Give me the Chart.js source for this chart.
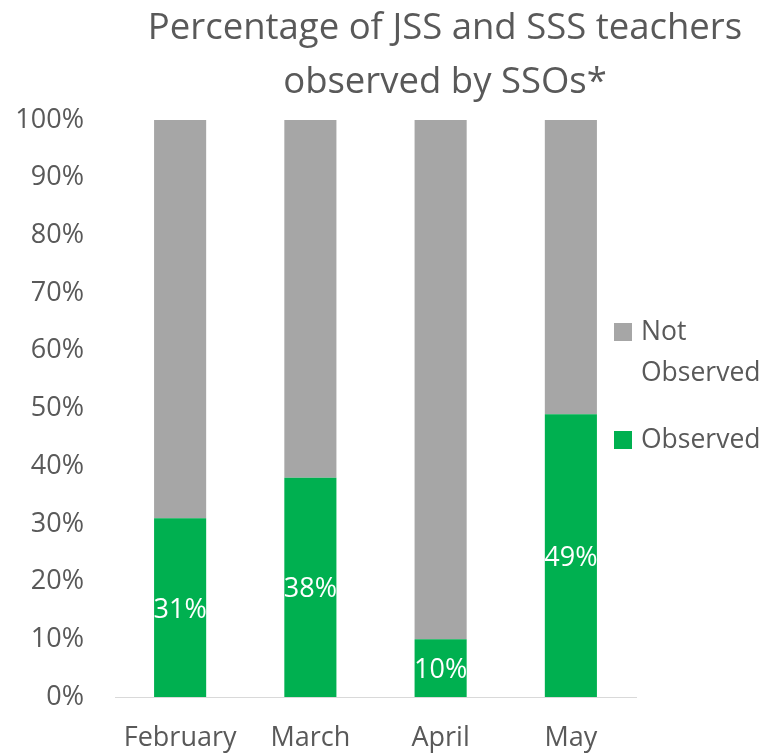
<!DOCTYPE html>
<html>
<head>
<meta charset="utf-8">
<script src="https://cdn.jsdelivr.net/npm/chart.js@4"></script>
<style>
  html, body { margin: 0; padding: 0; background: #fff; }
  #wrap { width: 767px; height: 755px; }
</style>
</head>
<body>
<div id="wrap"><canvas id="teacher-chart"></canvas></div>
<script>
const months = ["February", "March", "April", "May"];
const observed = [31, 38, 10, 49];
const notObserved = [69, 62, 90, 51];
const yTicks = [0, 10, 20, 30, 40, 50, 60, 70, 80, 90, 100];
const titleLines = ["Percentage of JSS and SSS teachers", "observed by SSOs*"];

const textColor = "#595959";
const fontName = "'Open Sans', sans-serif";

// white % labels in the middle of the green bars
const barLabels = {
    id: "barLabels",
    afterDatasetsDraw(chart) {
        const ctx = chart.ctx;
        const meta = chart.getDatasetMeta(0);
        ctx.save();
        ctx.fillStyle = "#ffffff";
        ctx.font = "27px " + fontName;
        ctx.textAlign = "center";
        ctx.textBaseline = "alphabetic";
        meta.data.forEach((bar, i) => {
            const mid = (bar.y + bar.base) / 2;
            ctx.fillText(observed[i] + "%", bar.x, mid + 10);
        });
        ctx.restore();
    }
};

// title + legend drawn by hand so they can sit where Excel put them
const extras = {
    id: "extras",
    afterDraw(chart) {
        const ctx = chart.ctx;
        ctx.save();
        ctx.fillStyle = textColor;
        ctx.font = "36.5px " + fontName;
        ctx.textAlign = "center";
        ctx.textBaseline = "alphabetic";
        titleLines.forEach((line, i) => ctx.fillText(line, 445, 39 + i * 54));

        const x = chart.chartArea.right - 22;
        const items = [
            { text: ["Not", "Observed"], color: chart.data.datasets[1].backgroundColor, top: 323 },
            { text: ["Observed"], color: chart.data.datasets[0].backgroundColor, top: 431 }
        ];
        ctx.font = "26.5px " + fontName;
        ctx.textAlign = "left";
        items.forEach(item => {
            ctx.fillStyle = item.color;
            ctx.fillRect(x, item.top, 18, 18);
            ctx.fillStyle = textColor;
            item.text.forEach((line, j) => {
                ctx.fillText(line, x + 27, item.top + 17 + j * 41);
            });
        });
        ctx.restore();
    }
};

const config = {
    type: "bar",
    data: {
        labels: months,
        datasets: [
            {
                label: "Observed",
                data: observed,
                backgroundColor: "#00B050",
                categoryPercentage: 1,
                barPercentage: 0.4
            },
            {
                label: "Not Observed",
                data: notObserved,
                backgroundColor: "#A6A6A6",
                categoryPercentage: 1,
                barPercentage: 0.4
            }
        ]
    },
    options: {
        responsive: true,
        maintainAspectRatio: false,
        animation: false,
        layout: {
            padding: { top: 120, right: 131, bottom: 0, left: 15 }
        },
        plugins: {
            legend: { display: false },
            tooltip: { enabled: false },
            title: { display: false }
        },
        scales: {
            x: {
                stacked: true,
                grid: { display: false, drawTicks: false },
                border: { display: true, color: "#D9D9D9", width: 1 },
                afterFit(axis) { axis.height = 58; },
                ticks: {
                    color: textColor,
                    font: { family: fontName, size: 27 },
                    padding: 25
                }
            },
            y: {
                stacked: true,
                min: 0,
                max: 100,
                grid: { display: false, drawTicks: false },
                border: { display: false },
                afterFit(axis) { axis.width = 100; },
                afterBuildTicks(axis) {
                    axis.ticks = yTicks.map(v => ({ value: v }));
                },
                ticks: {
                    color: textColor,
                    font: { family: fontName, size: 27 },
                    padding: 31,
                    callback: v => v + "%"
                }
            }
        }
    },
    plugins: [barLabels, extras]
};

const teacherChart = new Chart(document.getElementById("teacher-chart"), config);
</script>
</body>
</html>
